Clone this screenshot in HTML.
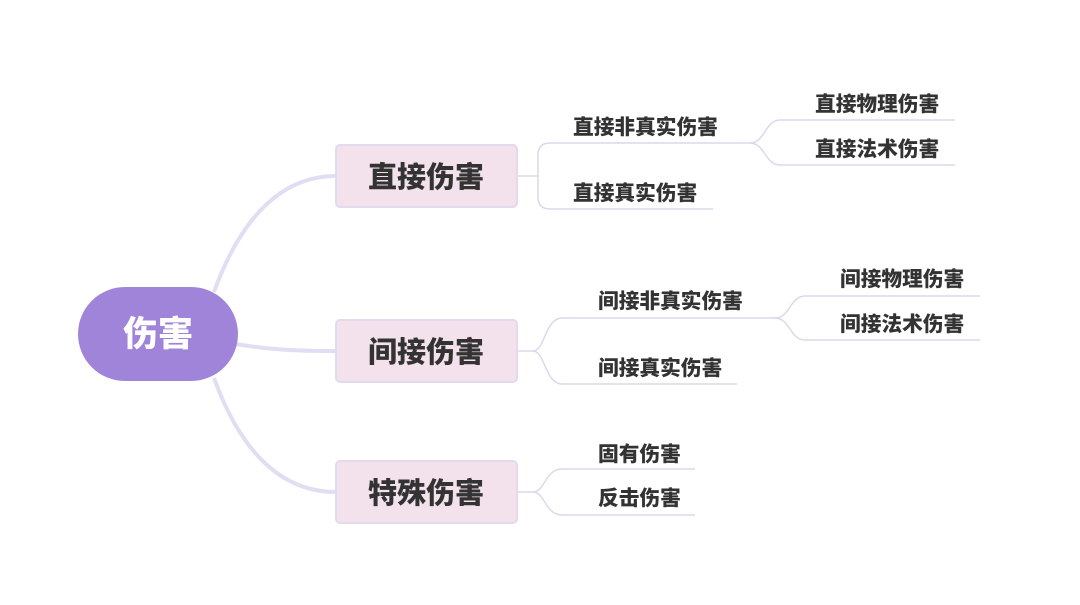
<!DOCTYPE html>
<html><head><meta charset="utf-8"><style>
body{margin:0;background:#fff;}
svg text{font-family:"Liberation Sans","Noto Sans CJK SC",sans-serif;font-weight:900;fill:#333;}
</style></head><body>
<svg width="1080" height="600" viewBox="0 0 1080 600" xmlns="http://www.w3.org/2000/svg">
<g fill="none" stroke="#e1ddf3" stroke-width="4">
<path d="M214,292 C240,220 280,176 336,176"/>
<path d="M236,344 C270,350 300,351 336,351"/>
<path d="M214,378 C240,450 280,492 336,492"/>
</g>
<g fill="none" stroke="#dcd8ec" stroke-width="1.5">
<path d="M517,176 H538"/>
<path d="M550,143 Q538,143 538,155 V197 Q538,209 550,209 H713"/>
<path d="M550,143 H750 C765,143 765,120 780,120 H955"/>
<path d="M750,143 C765,143 765,165 780,165 H955"/>
<path d="M517,351 H533 C545,351 545,318 562,318 H775 C790,318 790,296 805,296 H980"/>
<path d="M533,351 C545,351 545,384 562,384 H737"/>
<path d="M775,318 C790,318 790,340 805,340 H980"/>
<path d="M517,492 H533 C545,492 545,469 562,469 H695"/>
<path d="M533,492 C545,492 545,515 562,515 H695"/>
</g>
<rect x="78" y="287" width="160" height="94" rx="47" fill="#a084d9"/>
<text x="158" y="346" font-size="35" text-anchor="middle" style="fill:#fff">伤害</text>
<g fill="#f3e2ec" stroke="#e2dbef" stroke-width="2">
<rect x="336" y="145" width="181" height="62" rx="4"/>
<rect x="336" y="320" width="181" height="62" rx="4"/>
<rect x="336" y="461" width="181" height="62" rx="4"/>
</g>
<g font-size="29" text-anchor="middle">
<text x="426" y="187">直接伤害</text>
<text x="426" y="362">间接伤害</text>
<text x="426" y="503">特殊伤害</text>
</g>
<g font-size="20.7">
<text x="573" y="134">直接非真实伤害</text>
<text x="573" y="200">直接真实伤害</text>
<text x="815" y="111">直接物理伤害</text>
<text x="815" y="156">直接法术伤害</text>
<text x="598" y="308">间接非真实伤害</text>
<text x="598" y="375">间接真实伤害</text>
<text x="840" y="286">间接物理伤害</text>
<text x="840" y="331">间接法术伤害</text>
<text x="598" y="461">固有伤害</text>
<text x="598" y="505">反击伤害</text>
</g>
</svg>
</body></html>
